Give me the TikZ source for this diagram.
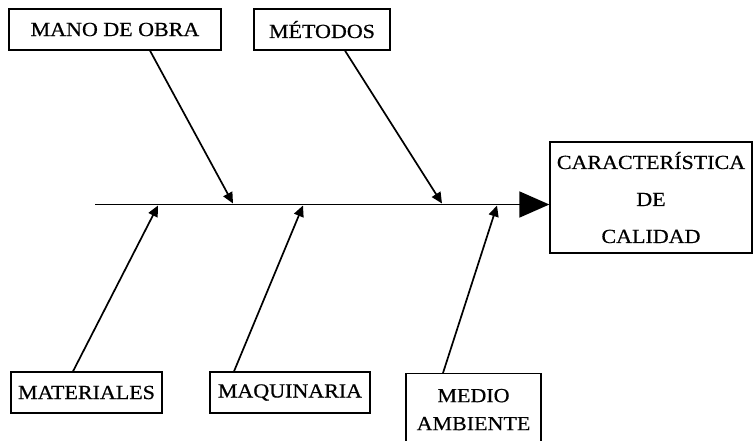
\documentclass[tikz,border=0pt]{standalone}
\usepackage{fontspec}
\setmainfont[FakeStretch=1.1,FakeBold=0.6]{Liberation Serif}
\usetikzlibrary{positioning, arrows.meta}

\begin{document}
\begin{tikzpicture}
[x=1pt,y=-1pt,
                    causa/.style={draw,line width=1.3pt,inner sep=0pt,
                    font=\fontsize{20}{24}\selectfont},
                    espina/.style={line width=1.7pt,-{Triangle[length=11pt,width=10pt]}},
                    efecto/.style={line width=1.7pt,-{Triangle[length=30pt,width=26pt]}}]
\useasboundingbox (0,0) rectangle (753,440);

\node[causa, minimum width=212pt, minimum height=41pt] (mano) at (115,29.5) {MANO DE OBRA};
\node[causa, minimum width=136pt, minimum height=41pt] (metodos) at (322,29.5) {MÉTODOS};
\node[causa, minimum width=151pt, minimum height=41pt] (materiales) at (86.5,392.5) {MATERIALES};
\node[causa, minimum width=160pt, minimum height=41pt] (maquinaria) at (290,392.5) {MAQUINARIA};
\node[causa, anchor=north, align=center, font=\fontsize{20}{28}\selectfont,
      minimum width=135pt, inner ysep=8pt, text height=48.5pt, text depth=20pt] (medio) at (473.5,373) {MEDIO\\AMBIENTE};
\node[causa, align=center, font=\fontsize{20}{37}\selectfont,
      minimum width=202pt, minimum height=111pt] (calidad) at (651,197.5) {CARACTERÍSTICA\\DE\\CALIDAD};

\coordinate (cola) at (95,204.5);
\coordinate (m1) at (233,203.5);
\coordinate (m2) at (442,203.5);
\coordinate (m3) at (158,205.5);
\coordinate (m4) at (303,205.5);
\coordinate (m5) at (497,205.5);

\draw[efecto] (cola) -- (cola -| calidad.west);

\path[espina]
	([xshift=35pt]mano.south) edge (m1)
	([xshift=23pt]metodos.south) edge (m2)
	([xshift=-13.5pt]materiales.north) edge (m3)
	([xshift=-56pt]maquinaria.north) edge (m4)
	([xshift=-30.5pt]medio.north) edge (m5);

\end{tikzpicture}
\end{document}
